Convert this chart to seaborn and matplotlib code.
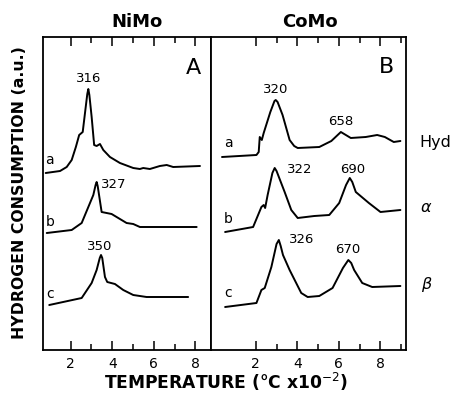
import numpy as np
import pandas as pd
import matplotlib
matplotlib.use("Agg")
import matplotlib.pyplot as plt
import seaborn as sns

# ---- data (temperature in 100 C, signal in arbitrary units) ----
nimo_a_T = [0.80, 1.49, 1.81, 2.05, 2.25, 2.41, 2.58, 2.69, 2.80, 2.85, 2.90, 3.01, 3.13, 3.25,
            3.41, 3.57, 3.89, 4.37, 5.01, 5.33, 5.49, 5.81, 6.29, 6.62, 6.93, 8.22]
nimo_a_H = [177, 179, 183, 190, 203, 215, 218, 237, 256, 261, 255, 233, 205, 204,
            206, 200, 193, 187, 182, 181, 182, 181, 184, 185, 183, 184]

nimo_b_T = [0.85, 2.05, 2.53, 2.93, 3.09, 3.20, 3.25, 3.30, 3.49, 3.97, 4.29, 4.69, 5.01, 5.33,
            6.62, 8.06]
nimo_b_H = [117, 120, 127, 147, 155, 165, 168, 164, 138, 136, 132, 127, 126, 123,
            123, 123]

nimo_c_T = [0.97, 2.53, 3.01, 3.25, 3.40, 3.46, 3.52, 3.65, 3.76, 4.13, 4.53, 5.01, 5.65, 7.65]
nimo_c_H = [45, 52, 67, 80, 92, 95, 92, 73, 68, 66, 60, 55, 53, 53]

como_a_T = [0.37, 2.03, 2.14, 2.19, 2.29, 2.38, 2.70, 2.90, 2.96, 3.05, 3.29, 3.63, 3.85, 4.02,
            5.06, 5.64, 6.10, 6.58, 7.30, 7.85, 8.22, 8.65, 8.97]
como_a_H = [193, 195, 198, 213, 210, 217, 238, 249, 250, 248, 235, 210, 204, 202,
            203, 209, 218, 212, 213, 215, 213, 208, 209]

como_b_T = [0.52, 1.87, 2.27, 2.38, 2.45, 2.57, 2.80, 2.91, 3.00, 3.39, 3.71, 4.02, 4.82, 5.54,
            6.02, 6.35, 6.53, 6.65, 6.82, 7.45, 8.01, 8.97]
como_b_H = [118, 123, 143, 145, 142, 155, 177, 182, 179, 158, 140, 132, 134, 135,
            147, 165, 172, 168, 158, 147, 138, 140]

como_c_T = [0.52, 2.03, 2.27, 2.43, 2.75, 3.00, 3.11, 3.20, 3.31, 3.63, 4.19, 4.50, 5.06, 5.70,
            6.20, 6.46, 6.60, 6.74, 7.13, 7.61, 8.97]
como_c_H = [43, 47, 60, 62, 83, 106, 110, 104, 95, 80, 57, 53, 54, 62,
            82, 90, 87, 80, 67, 63, 64]

# peak annotations: (text, T, H)
nimo_peaks = [("316", 2.85, 271), ("327", 4.05, 165), ("350", 3.41, 103)]
como_peaks = [("320", 2.96, 260), ("658", 6.10, 228), ("322", 4.11, 180),
              ("690", 6.66, 180), ("326", 4.19, 110), ("670", 6.42, 100)]
trace_letters = ["a", "b", "c"]
nimo_letter_H = [190, 128, 56]
como_letter_H = [207, 131, 57]
como_samples = ["Hyd", r"$\alpha$", r"$\beta$"]
como_sample_T = [10.65, 10.23, 10.23]
como_sample_H = [207, 142, 65]

sns.set_style("ticks")
plt.rcParams['font.family'] = ['DejaVu Sans']
plt.rcParams['text.color'] = 'black'
plt.rcParams['xtick.color'] = 'black'
plt.rcParams['axes.edgecolor'] = 'black'

fig = plt.figure(figsize=(4.55, 3.97), dpi=100)
ax1 = fig.add_axes([43 / 455, 47 / 397, 168 / 455, 313 / 397])
ax2 = fig.add_axes([211 / 455, 47 / 397, 195 / 455, 313 / 397])

for T, H in [(nimo_a_T, nimo_a_H), (nimo_b_T, nimo_b_H), (nimo_c_T, nimo_c_H)]:
    df = pd.DataFrame({"T": T, "H": H})
    sns.lineplot(data=df, x="T", y="H", ax=ax1, color="black", lw=1.4,
                 sort=False, estimator=None)
for T, H in [(como_a_T, como_a_H), (como_b_T, como_b_H), (como_c_T, como_c_H)]:
    df = pd.DataFrame({"T": T, "H": H})
    sns.lineplot(data=df, x="T", y="H", ax=ax2, color="black", lw=1.4,
                 sort=False, estimator=None)

ax1.set_xlim(0.67, 8.75)
ax2.set_xlim(-0.16, 9.24)
for ax, ticks in [(ax1, range(2, 9)), (ax2, range(2, 10))]:
    ax.set_ylim(0, 313)
    ax.set_yticks([])
    ax.set_xlabel("")
    ax.set_ylabel("")
    ax.set_xticks([t for t in ticks if t % 2 == 0])
    ax.set_xticks([t for t in ticks if t % 2 == 1], minor=True)
    ax.tick_params(axis="x", which="major", direction="in", top=True, bottom=True,
                   length=6.5, width=1.1, labelsize=10, pad=5, colors="black")
    ax.tick_params(axis="x", which="minor", direction="in", top=True, bottom=True,
                   length=4.5, width=1.1, colors="black")
    for s in ax.spines.values():
        s.set_linewidth(1.3)
        s.set_color("black")
        s.set_visible(True)

for txt, t, h in nimo_peaks:
    ax1.text(t, h, txt, ha="center", va="center", fontsize=9.5)
for txt, t, h in como_peaks:
    ax2.text(t, h, txt, ha="center", va="center", fontsize=9.5)
for lab, h in zip(trace_letters, nimo_letter_H):
    ax1.text(1.0, h, lab, ha="center", va="center", fontsize=10)
for lab, h in zip(trace_letters, como_letter_H):
    ax2.text(0.68, h, lab, ha="center", va="center", fontsize=10)
for lab, t, h in zip(como_samples, como_sample_T, como_sample_H):
    ax2.text(t, h, lab, ha="center", va="center", fontsize=11.5, clip_on=False)

ax1.text(7.9, 282, "A", ha="center", va="center", fontsize=16)
ax2.text(8.32, 283, "B", ha="center", va="center", fontsize=16)

fig.text(137 / 455, 1 - 22 / 397, "NiMo", ha="center", va="center",
         fontsize=13, fontweight="bold")
fig.text(310 / 455, 1 - 22 / 397, "CoMo", ha="center", va="center",
         fontsize=13, fontweight="bold")

fig.text(226 / 455, 1 - 382 / 397, r"TEMPERATURE (°C x10$^{-2}$)", ha="center",
         va="center", fontsize=12.3, fontweight="bold")
fig.text(20 / 455, 1 - 193 / 397, "HYDROGEN CONSUMPTION (a.u.)", ha="center",
         va="center", rotation=90, fontsize=11.3, fontweight="bold")

fig.savefig("out.png", dpi=100)
